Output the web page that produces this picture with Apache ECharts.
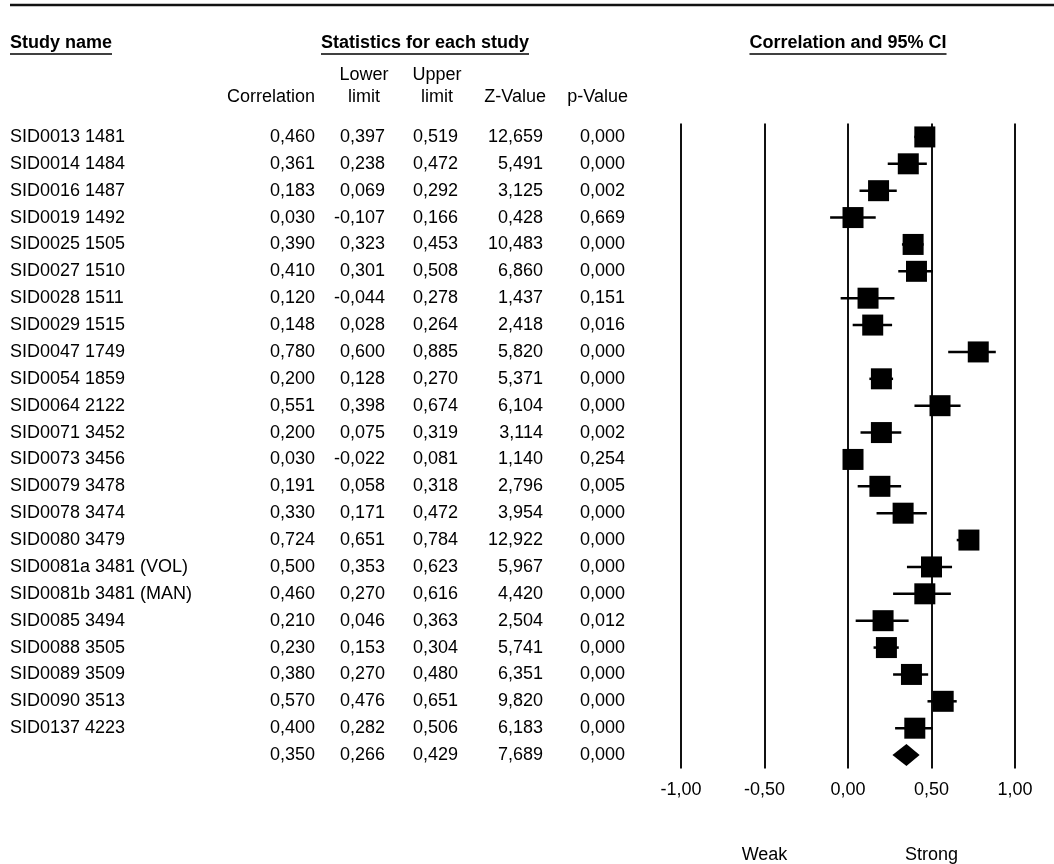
<!DOCTYPE html>
<html><head><meta charset="utf-8">
<script src="https://cdn.jsdelivr.net/npm/echarts@6/dist/echarts.min.js"></script>
<style>html,body{margin:0;padding:0;background:#fff}#c{width:1054px;height:864px}</style>
</head><body><div id="c"></div>
<script>
// ---------- data ----------
const studyNames = ["SID0013 1481","SID0014 1484","SID0016 1487","SID0019 1492","SID0025 1505","SID0027 1510","SID0028 1511","SID0029 1515","SID0047 1749","SID0054 1859","SID0064 2122","SID0071 3452","SID0073 3456","SID0079 3478","SID0078 3474","SID0080 3479","SID0081a 3481 (VOL)","SID0081b 3481 (MAN)","SID0085 3494","SID0088 3505","SID0089 3509","SID0090 3513","SID0137 4223"];
const correlation = [0.460,0.361,0.183,0.030,0.390,0.410,0.120,0.148,0.780,0.200,0.551,0.200,0.030,0.191,0.330,0.724,0.500,0.460,0.210,0.230,0.380,0.570,0.400];
const lowerLimit = [0.397,0.238,0.069,-0.107,0.323,0.301,-0.044,0.028,0.600,0.128,0.398,0.075,-0.022,0.058,0.171,0.651,0.353,0.270,0.046,0.153,0.270,0.476,0.282];
const upperLimit = [0.519,0.472,0.292,0.166,0.453,0.508,0.278,0.264,0.885,0.270,0.674,0.319,0.081,0.318,0.472,0.784,0.623,0.616,0.363,0.304,0.480,0.651,0.506];
const zValue = [12.659,5.491,3.125,0.428,10.483,6.860,1.437,2.418,5.820,5.371,6.104,3.114,1.140,2.796,3.954,12.922,5.967,4.420,2.504,5.741,6.351,9.820,6.183];
const pValue = [0.000,0.000,0.002,0.669,0.000,0.000,0.151,0.016,0.000,0.000,0.000,0.002,0.254,0.005,0.000,0.000,0.000,0.000,0.012,0.000,0.000,0.000,0.000];
// summary row: correlation, lower, upper, Z, p
const summaryCorrelation = 0.350, summaryLower = 0.266, summaryUpper = 0.429, summaryZ = 7.689, summaryP = 0.000;
const axisTicks = [-1, -0.5, 0, 0.5, 1];
const sectionHeaders = ["Study name", "Statistics for each study", "Correlation and 95% CI"];
const columnHeaders = [["", "Correlation"], ["Lower", "limit"], ["Upper", "limit"], ["", "Z-Value"], ["", "p-Value"]];
const bottomLabels = ["Weak", "Strong"];

// ---------- layout / style ----------
const FONT = '"Liberation Sans", Arial, sans-serif';
const FS = 18, HFS = 18;
const colRight = [315, 385, 458, 543, 625];   // right edges of numeric columns
const nameLeft = 10;
const gridL = 681, gridR = 1015, gridTop = 123.5, gridBottom = 768.5;
const fmt3 = v => v.toFixed(3).replace('.', ',');
const fmt2 = v => v.toFixed(2).replace('.', ',');

const rowNames = studyNames.concat(['']);
const rowCorr = correlation.concat([summaryCorrelation]);
const rowLow = lowerLimit.concat([summaryLower]);
const rowUp = upperLimit.concat([summaryUpper]);
const rowZ = zValue.concat([summaryZ]);
const rowP = pValue.concat([summaryP]);
const rowKeys = rowNames.map((n, i) => 'r' + i);

const widths = [colRight[0] - 70 - nameLeft, 70, colRight[1]-colRight[0], colRight[2]-colRight[1], colRight[3]-colRight[2], colRight[4]-colRight[3]];
const base = {fontFamily: FONT, fontSize: FS, color: '#000', lineHeight: 20};
const rich = {
  n: Object.assign({}, base, {width: widths[0], align: 'left'}),
  a: Object.assign({}, base, {width: widths[1], align: 'right'}),
  b: Object.assign({}, base, {width: widths[2], align: 'right'}),
  c: Object.assign({}, base, {width: widths[3], align: 'right'}),
  d: Object.assign({}, base, {width: widths[4], align: 'right'}),
  e: Object.assign({}, base, {width: widths[5], align: 'right'})
};

// text measuring for underlines
const mctx = document.createElement('canvas').getContext('2d');
function tw(t, font) { mctx.font = font; return mctx.measureText(t).width; }

const graphics = [];
// top rule
graphics.push({type: 'line', shape: {x1: 10, y1: 5, x2: 1054, y2: 5}, style: {stroke: '#111', lineWidth: 2.5}});
// section headers (bold, underlined)
const hFont = 'bold ' + HFS + 'px ' + FONT;
const hY = 43;
const hDefs = [
  {t: sectionHeaders[0], x: nameLeft, align: 'left'},
  {t: sectionHeaders[1], x: 425, align: 'center'},
  {t: sectionHeaders[2], x: (gridL + gridR) / 2, align: 'center'}
];
hDefs.forEach(h => {
  graphics.push({type: 'text', x: h.x, y: hY, style: {text: h.t, font: hFont, fill: '#000', align: h.align, textAlign: h.align, verticalAlign: 'middle', textVerticalAlign: 'middle'}});
  const w = tw(h.t, hFont);
  const x1 = h.align === 'left' ? h.x : h.x - w / 2;
  graphics.push({type: 'line', shape: {x1: x1, y1: hY + 11, x2: x1 + w, y2: hY + 11}, style: {stroke: '#000', lineWidth: 1.5}});
});
// column headers
const sFont = FS + 'px ' + FONT;
const cDefs = [
  {x: colRight[0], align: 'right'},
  {x: colRight[1] - 21, align: 'center'},
  {x: colRight[2] - 21, align: 'center'},
  {x: colRight[3] + 3, align: 'right'},
  {x: colRight[4] + 3, align: 'right'}
];
columnHeaders.forEach((lines, i) => {
  [75, 97].forEach((y, k) => {
    if (!lines[k]) return;
    graphics.push({type: 'text', x: cDefs[i].x, y: y, style: {text: lines[k], font: sFont, fill: '#000', align: cDefs[i].align, textAlign: cDefs[i].align, verticalAlign: 'middle', textVerticalAlign: 'middle'}});
  });
});
// Weak / Strong
[[-0.5, bottomLabels[0]], [0.5, bottomLabels[1]]].forEach(([v, t]) => {
  const x = gridL + (v + 1) / 2 * (gridR - gridL);
  graphics.push({type: 'text', x: x, y: 855, style: {text: t, font: sFont, fill: '#000', align: 'center', textAlign: 'center', verticalAlign: 'middle', textVerticalAlign: 'middle'}});
});

const chart = echarts.init(document.getElementById('c'), null, {renderer: 'canvas'});
chart.setOption({
  backgroundColor: '#fff',
  animation: false,
  grid: {left: gridL, right: 1054 - gridR, top: gridTop, height: gridBottom - gridTop, containLabel: false, outerBoundsMode: 'none'},
  xAxis: {
    type: 'value', min: axisTicks[0], max: axisTicks[axisTicks.length - 1], interval: 0.5,
    axisLine: {show: false}, axisTick: {show: false},
    splitLine: {show: true, showMinLine: true, showMaxLine: true, lineStyle: {color: '#111', width: 2}},
    axisLabel: {formatter: fmt2, fontFamily: FONT, fontSize: FS, color: '#000', margin: 13}
  },
  yAxis: {
    type: 'category', inverse: true, data: rowKeys,
    axisLine: {show: false}, axisTick: {show: false}, splitLine: {show: false},
    axisLabel: {
      interval: 0, margin: gridL - colRight[4], hideOverlap: false,
      formatter: (val, idx) => '{n|' + rowNames[idx] + '}{a|' + fmt3(rowCorr[idx]) + '}{b|' + fmt3(rowLow[idx]) + '}{c|' + fmt3(rowUp[idx]) + '}{d|' + fmt3(rowZ[idx]) + '}{e|' + fmt3(rowP[idx]) + '}',
      rich: rich
    }
  },
  series: [
    {
      type: 'custom', name: 'ci',
      data: lowerLimit.map((l, i) => [l, upperLimit[i], i]),
      encode: {x: [0, 1], y: 2},
      renderItem: (params, api) => {
        const p1 = api.coord([api.value(0), api.value(2)]);
        const p2 = api.coord([api.value(1), api.value(2)]);
        return {type: 'line', shape: {x1: p1[0], y1: p1[1], x2: p2[0], y2: p2[1]}, style: {stroke: '#000', lineWidth: 2.5}};
      },
      z: 3
    },
    {
      type: 'scatter', name: 'correlation',
      data: correlation.map((c, i) => [c, i]),
      symbol: 'rect', symbolSize: 21,
      itemStyle: {color: '#000', opacity: 1},
      emphasis: {disabled: true},
      z: 4
    },
    {
      type: 'custom', name: 'summary',
      data: [[summaryLower, summaryCorrelation, summaryUpper, studyNames.length]],
      encode: {x: [0, 1, 2], y: 3},
      renderItem: (params, api) => {
        const y = api.value(3);
        const l = api.coord([api.value(0), y]);
        const c = api.coord([api.value(1), y]);
        const u = api.coord([api.value(2), y]);
        const h = 11;
        return {type: 'polygon', shape: {points: [[l[0], l[1]], [c[0], c[1] - h], [u[0], u[1]], [c[0], c[1] + h]]}, style: {fill: '#000'}};
      },
      z: 4
    }
  ],
  graphic: graphics
});
</script>
</body></html>
